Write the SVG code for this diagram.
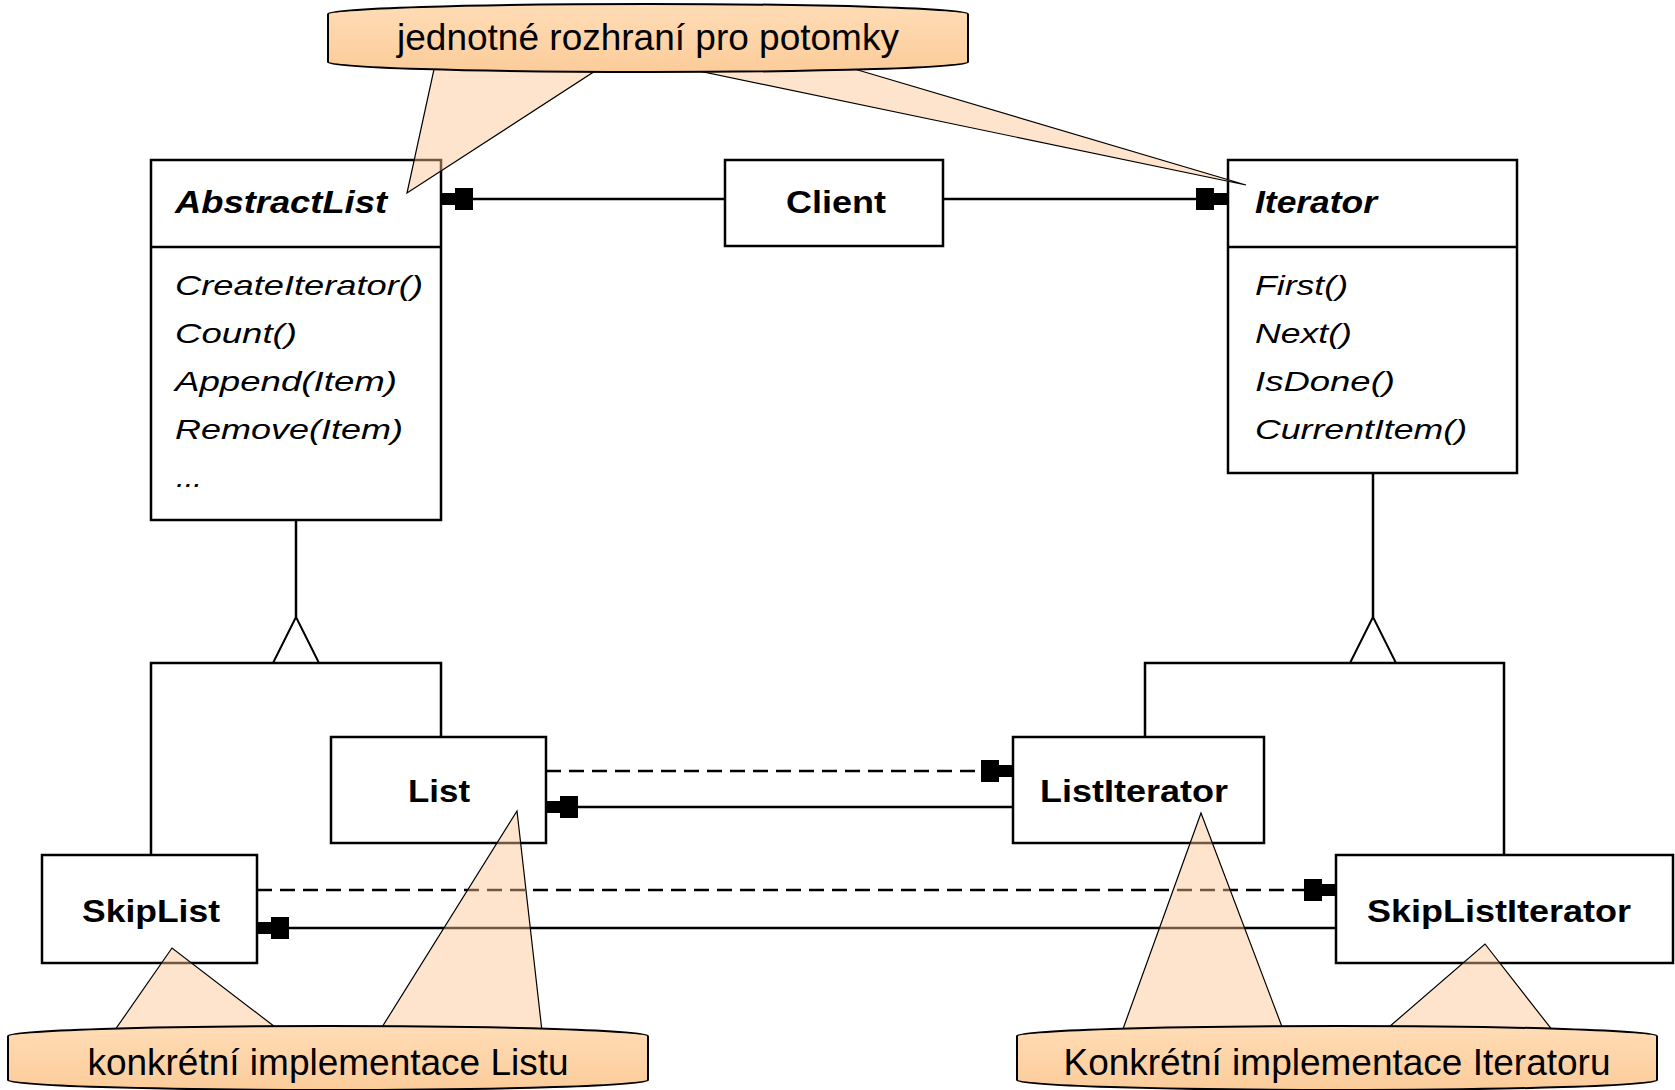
<svg xmlns="http://www.w3.org/2000/svg" width="1675" height="1090" viewBox="0 0 1675 1090">
  <style>
    .box { fill: #ffffff; stroke: #000000; stroke-width: 2.5; }
    .ln { fill: none; stroke: #000000; stroke-width: 2.5; }
    .dash { fill: none; stroke: #000000; stroke-width: 2.5; stroke-dasharray: 15 8; }
    .title { font-family: "Liberation Sans", Arial, sans-serif; font-size: 31px; font-weight: bold; fill: #000; }
    .ital { font-style: italic; }
    .meth { font-family: "Liberation Sans", Arial, sans-serif; font-size: 28px; font-style: italic; fill: #000; }
    .note { font-family: "Liberation Sans", Arial, sans-serif; font-size: 37px; fill: #000; }
    .tri { fill: #fdc48e; fill-opacity: 0.45; stroke: #000; stroke-width: 1.2; }
    .bubble { fill: url(#bg); stroke: #000; stroke-width: 2; }
  </style>
  <defs>
    <linearGradient id="bg" x1="0" y1="0" x2="0" y2="1">
      <stop offset="0" stop-color="#ffdcb6"/>
      <stop offset="1" stop-color="#fccc9a"/>
    </linearGradient>
    <marker id="arr" markerUnits="userSpaceOnUse" markerWidth="34" markerHeight="24" refX="32" refY="12" orient="auto">
      <path d="M0,1 L18,1 L18,6 L32,6 L32,18 L18,18 L18,23 L0,23 Z" fill="#000"/>
    </marker>
  </defs>
  <rect width="1675" height="1090" fill="#ffffff"/>

  <g id="AbstractList">
    <rect class="box" x="151" y="160" width="290" height="360"/>
    <line class="ln" x1="151" y1="247" x2="441" y2="247"/>
    <text class="title ital" x="175" y="213" textLength="212" lengthAdjust="spacingAndGlyphs">AbstractList</text>
    <text class="meth" x="175" y="295" textLength="248" lengthAdjust="spacingAndGlyphs">CreateIterator()</text>
    <text class="meth" x="175" y="343" textLength="122" lengthAdjust="spacingAndGlyphs">Count()</text>
    <text class="meth" x="175" y="391" textLength="222" lengthAdjust="spacingAndGlyphs">Append(Item)</text>
    <text class="meth" x="175" y="439" textLength="228" lengthAdjust="spacingAndGlyphs">Remove(Item)</text>
    <text class="meth" x="176" y="487" textLength="26" lengthAdjust="spacingAndGlyphs">...</text>
  </g>

  <g id="Client">
    <rect class="box" x="725" y="160" width="218" height="86"/>
    <text class="title" x="836" y="213" text-anchor="middle" textLength="100" lengthAdjust="spacingAndGlyphs">Client</text>
  </g>

  <g id="Iterator">
    <rect class="box" x="1228" y="160" width="289" height="313"/>
    <line class="ln" x1="1228" y1="247" x2="1517" y2="247"/>
    <text class="title ital" x="1255" y="213" textLength="122" lengthAdjust="spacingAndGlyphs">Iterator</text>
    <text class="meth" x="1255" y="295" textLength="93" lengthAdjust="spacingAndGlyphs">First()</text>
    <text class="meth" x="1255" y="343" textLength="97" lengthAdjust="spacingAndGlyphs">Next()</text>
    <text class="meth" x="1255" y="391" textLength="140" lengthAdjust="spacingAndGlyphs">IsDone()</text>
    <text class="meth" x="1255" y="439" textLength="212" lengthAdjust="spacingAndGlyphs">CurrentItem()</text>
  </g>

  <g id="List">
    <rect class="box" x="331" y="737" width="215" height="106"/>
    <text class="title" x="439" y="802" text-anchor="middle" textLength="62" lengthAdjust="spacingAndGlyphs">List</text>
  </g>

  <g id="SkipList">
    <rect class="box" x="42" y="855" width="215" height="108"/>
    <text class="title" x="151" y="922" text-anchor="middle" textLength="138" lengthAdjust="spacingAndGlyphs">SkipList</text>
  </g>

  <g id="ListIterator">
    <rect class="box" x="1013" y="737" width="251" height="106"/>
    <text class="title" x="1134" y="802" text-anchor="middle" textLength="188" lengthAdjust="spacingAndGlyphs">ListIterator</text>
  </g>

  <g id="SkipListIterator">
    <rect class="box" x="1336" y="855" width="337" height="108"/>
    <text class="title" x="1499" y="922" text-anchor="middle" textLength="264" lengthAdjust="spacingAndGlyphs">SkipListIterator</text>
  </g>

  <g id="connectors">
    <line class="ln" x1="725" y1="199" x2="441" y2="199" marker-end="url(#arr)"/>
    <line class="ln" x1="943" y1="199" x2="1228" y2="199" marker-end="url(#arr)"/>
    <path class="ln" d="M296,520 V617"/>
    <polygon class="ln" points="296,617 273,663 319,663" style="fill:#fff;stroke-width:2"/>
    <path class="ln" d="M151,855 V663 H441 V737"/>
    <path class="ln" d="M1373,473 V617"/>
    <polygon class="ln" points="1373,617 1350,663 1396,663" style="fill:#fff;stroke-width:2"/>
    <path class="ln" d="M1145,737 V663 H1504 V855"/>
    <line class="dash" x1="546" y1="771" x2="1013" y2="771" marker-end="url(#arr)"/>
    <line class="ln" x1="1013" y1="807" x2="546" y2="807" marker-end="url(#arr)"/>
    <line class="dash" x1="257" y1="890" x2="1336" y2="890" marker-end="url(#arr)"/>
    <line class="ln" x1="1336" y1="928" x2="257" y2="928" marker-end="url(#arr)"/>
  </g>

  <g id="note-interface">
    <polygon class="tri" points="436,60 612,60 407,193"/>
    <polygon class="tri" points="646,60 824,60 1246,185"/>
    <path class="bubble" d="M328,14 A320,10 0 0 1 968,14 L968,62 A320,10 0 0 1 328,62 Z"/>
    <text class="note" x="648" y="50" text-anchor="middle">jednotné rozhraní pro potomky</text>
  </g>

  <g id="note-list">
    <polygon class="tri" points="108,1040 292,1040 172,948"/>
    <polygon class="tri" points="374,1040 543,1040 517,811"/>
    <path class="bubble" d="M8,1036 A320,10 0 0 1 648,1036 L648,1080 A320,10 0 0 1 8,1080 Z"/>
    <text class="note" x="328" y="1075" text-anchor="middle">konkrétní implementace Listu</text>
  </g>

  <g id="note-iterator">
    <polygon class="tri" points="1119,1040 1287,1040 1201,813"/>
    <polygon class="tri" points="1374,1040 1560,1040 1485,944"/>
    <path class="bubble" d="M1017,1036 A320,10 0 0 1 1657,1036 L1657,1080 A320,10 0 0 1 1017,1080 Z"/>
    <text class="note" x="1337" y="1075" text-anchor="middle">Konkrétní implementace Iteratoru</text>
  </g>
</svg>
